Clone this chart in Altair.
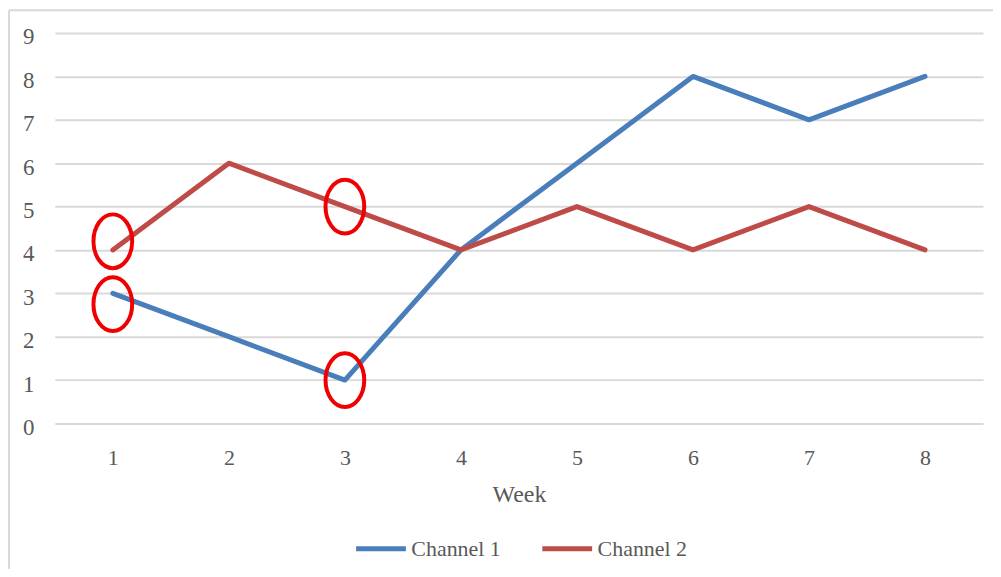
import altair as alt
import pandas as pd

weeks = [1, 2, 3, 4, 5, 6, 7, 8]
channel_1 = [3, 2, 1, 4, 6, 8, 7, 8]
channel_2 = [4, 6, 5, 4, 5, 4, 5, 4]
series_names = ["Channel 1", "Channel 2"]
series_colors = ["#4A7EBB", "#BE4B48"]

# red annotation ellipses (week, value)
ellipse_week = [1, 1, 3, 3]
ellipse_value = [4.2, 2.75, 5, 1]

rows = []
for w, a, b in zip(weeks, channel_1, channel_2):
    rows.append({"Week": w, "Value": a, "Series": series_names[0]})
    rows.append({"Week": w, "Value": b, "Series": series_names[1]})
df = pd.DataFrame(rows)
df_ell = pd.DataFrame({"Week": ellipse_week, "Value": ellipse_value})

FONT = "Liberation Serif"
GRAY = "#595959"

a, b, k = 0.72, 1.0, 0.5523
ellipse_path = (
    f"M {a},0 C {a},{k*b} {k*a},{b} 0,{b} "
    f"C {-k*a},{b} {-a},{k*b} {-a},0 "
    f"C {-a},{-k*b} {-k*a},{-b} 0,{-b} "
    f"C {k*a},{-b} {a},{-k*b} {a},0 Z"
)

x_enc = alt.X(
    "Week:O",
    scale=alt.Scale(paddingInner=0, paddingOuter=0.5),
    axis=alt.Axis(
        title="Week", labelAngle=0, ticks=False, domain=False, grid=False,
        labelFontSize=22, labelColor=GRAY, labelFont=FONT, labelPadding=24,
        titleFontSize=24, titleColor=GRAY, titleFont=FONT, titleFontWeight="normal",
        titleBaseline="alphabetic", titleY=78,
    ),
)
y_enc = alt.Y(
    "Value:Q",
    scale=alt.Scale(domain=[0, 9], nice=False),
    axis=alt.Axis(
        title=None, values=list(range(10)), ticks=False, domain=False,
        grid=True, gridColor="#D9D9D9", gridWidth=2,
        labelFontSize=23, labelColor=GRAY, labelFont=FONT, labelPadding=21,
        labelOffset=4,
    ),
)

fdf = pd.DataFrame({"f": [0]})
frame_left = alt.Chart(fdf).mark_rule(stroke="#D9D9D9", strokeWidth=2).encode(
    x=alt.value(-46), y=alt.value(-23), y2=alt.value(1400)
)
frame_top = alt.Chart(fdf).mark_rule(stroke="#D9D9D9", strokeWidth=2).encode(
    x=alt.value(-46), x2=alt.value(1400), y=alt.value(-23)
)

lines = alt.Chart(df).mark_line(strokeWidth=5, strokeCap="round", strokeJoin="round").encode(
    x=x_enc,
    y=y_enc,
    color=alt.Color(
        "Series:N",
        scale=alt.Scale(domain=series_names, range=series_colors),
        legend=alt.Legend(
            title=None, orient="none", legendX=300, legendY=490,
            direction="horizontal", symbolType="stroke", symbolSize=2500,
            symbolStrokeWidth=5, labelFontSize=22, labelColor=GRAY, labelFont=FONT,
            labelOffset=3, columnPadding=31,
        ),
    ),
)

ellipses = alt.Chart(df_ell).mark_point(
    shape=ellipse_path, size=2916, filled=False, stroke="#F00000", strokeWidth=4, opacity=1
).encode(
    x=alt.X("Week:O"),
    y=alt.Y("Value:Q"),
)

chart = alt.layer(frame_left, frame_top, lines, ellipses).properties(
    width=932, height=392,
    background="white",
    autosize=alt.AutoSizeParams(type="none"),
    padding={"left": 47, "top": 24, "right": 10, "bottom": 145},
).configure_view(stroke=None)

chart.save("out.html", embed_options={"renderer": "svg", "actions": False})
